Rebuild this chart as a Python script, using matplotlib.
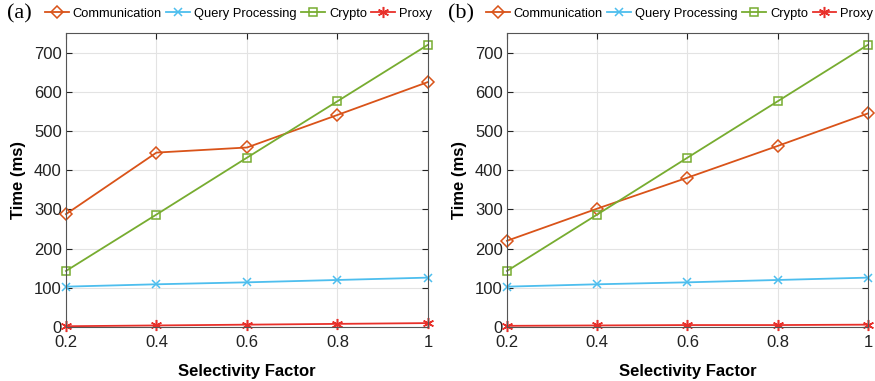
import matplotlib
matplotlib.use('Agg')
import matplotlib.pyplot as plt

plt.rcParams['font.family'] = ['Liberation Sans', 'DejaVu Sans']

# dados
selectivity = [0.2, 0.4, 0.6, 0.8, 1.0]
series_names = ['Communication', 'Query Processing', 'Crypto', 'Proxy']

comm_a = [288, 445, 458, 541, 625]
query_a = [103, 109, 114, 120, 126]
crypto_a = [143, 287, 432, 576, 720]
proxy_a = [2, 4, 6, 8, 10]

comm_b = [220, 302, 381, 462, 545]
query_b = [103, 109, 114, 120, 126]
crypto_b = [143, 287, 432, 576, 720]
proxy_b = [3, 4, 5, 5, 6]

panel_labels = ['(a)', '(b)']
y_ticks = [0, 100, 200, 300, 400, 500, 600, 700]
x_tick_labels = ['0.2', '0.4', '0.6', '0.8', '1']

colors = ['#D95319', '#4DBEEE', '#77AC30', '#E8302A']
markers = ['D', 'x', 's', (6, 2, 0)]
msizes = [6, 6, 6, 8]

fig = plt.figure(figsize=(8.75, 3.81), dpi=100)
positions = [[0.0754, 0.1417, 0.4137, 0.7716], [0.5794, 0.1417, 0.4126, 0.7716]]
panels = [[comm_a, query_a, crypto_a, proxy_a], [comm_b, query_b, crypto_b, proxy_b]]

for pos, data, label in zip(positions, panels, panel_labels):
    ax = fig.add_axes(pos)
    handles = []
    for vals, name, c, m, ms in zip(data, series_names, colors, markers, msizes):
        h, = ax.plot(selectivity, vals, color=c, marker=m, markersize=ms,
                     markerfacecolor='none' if m in ('D', 's') else c,
                     markeredgewidth=1.1, linewidth=1.3, label=name,
                     clip_on=False)
        handles.append(h)
    ax.set_xlim(0.2, 1.0)
    ax.set_ylim(0, 750)
    ax.set_xticks(selectivity)
    ax.set_xticklabels(x_tick_labels)
    ax.set_yticks(y_ticks)
    ax.grid(True, color='#e3e3e3', linewidth=0.8)
    ax.set_axisbelow(True)
    for s in ax.spines.values():
        s.set_color('#555555')
        s.set_linewidth(0.8)
    ax.tick_params(direction='in', length=4, labelsize=12, colors='#222222',
                   top=True, right=True, pad=3)
    ax.tick_params(axis='x', pad=6)
    ax.set_xlabel('Selectivity Factor', fontsize=12, fontweight='bold', labelpad=10)
    ax.set_ylabel('Time (ms)', fontsize=12, fontweight='bold', labelpad=6)
    ax.legend(handles=handles, loc='center left', bbox_to_anchor=(-0.058, 1.065),
              ncol=4, frameon=False, fontsize=9.3, handlelength=1.85,
              handletextpad=0.3, columnspacing=0.35, borderpad=0.0,
              borderaxespad=0.0)
    ax.text(-0.163, 1.065, label, transform=ax.transAxes, fontsize=16,
            family='Liberation Serif', va='center', ha='left')

fig.savefig('out.png', dpi=100)
